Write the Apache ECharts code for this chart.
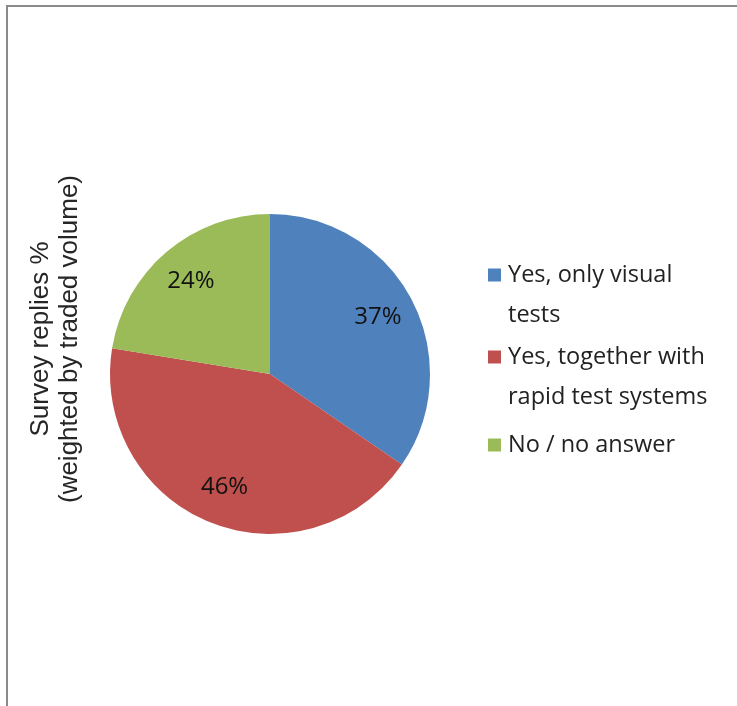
<!DOCTYPE html>
<html>
<head>
<meta charset="utf-8">
<title>Survey replies</title>
<script src="https://cdn.jsdelivr.net/npm/echarts@6/dist/echarts.min.js"></script>
<style>
  html, body { margin: 0; padding: 0; background: #fff; }
  #chart { width: 737px; height: 706px; }
</style>
</head>
<body>
<div id="chart"></div>
<script>
// Survey answers and their shares (percent, weighted by traded volume)
const categories = ['Yes, only visual tests', 'Yes, together with rapid test systems', 'No / no answer'];
const legendLabels = ['Yes, only visual\ntests', 'Yes, together with\nrapid test systems', 'No / no answer'];
const shares = [37, 46, 24];
const colors = ['#4F81BD', '#C0504D', '#9BBB59'];
const axisTitle = ['Survey replies %', '(weighted by traded volume)'];

const pieData = categories.map((name, i) => ({ name, value: shares[i] }));

// one vertical stack of legend entries, each with its own top offset
const legendTops = [250, 332, 420];

function legendFor(i) {
  const rich = {
    g: { width: 13, height: 13, lineHeight: 40 },
    t: { fontFamily: 'Open Sans', fontSize: 23.5, color: '#222', lineHeight: 40, padding: [0, 0, 0, 7] }
  };
  rich['m' + i] = { width: 13, height: 13, lineHeight: 40, backgroundColor: colors[i], verticalAlign: 'middle' };
  return {
    orient: 'vertical',
    left: 478,
    top: legendTops[i],
    itemWidth: 0,
    itemHeight: 0,
    icon: 'rect',
    data: [categories[i]],
    selectedMode: false,
    formatter: (name) => legendLabels[categories.indexOf(name)].split('\n')
      .map((line, k) => (k === 0 ? '{m' + i + '|}' : '{g|}') + '{t|' + line + '}')
      .join('\n'),
    textStyle: { lineHeight: 40, rich }
  };
}

const chart = echarts.init(document.getElementById('chart'), null, { renderer: 'canvas' });
chart.setOption({
  animation: false,
  backgroundColor: '#fff',
  color: colors,
  graphic: [
    {
      type: 'rect',
      shape: { x: 7, y: 6, width: 760, height: 730 },
      style: { fill: 'none', stroke: '#8a8a8a', lineWidth: 2 },
      silent: true
    },
    {
      type: 'text',
      x: 55,
      y: 339,
      rotation: Math.PI / 2,
      style: {
        text: axisTitle.join('\n'),
        fontFamily: 'Liberation Sans',
        fontSize: 26,
        lineHeight: 29,
        fill: '#262626',
        align: 'center',
        verticalAlign: 'middle'
      },
      silent: true
    }
  ],
  legend: categories.map((c, i) => legendFor(i)),
  series: [
    {
      type: 'pie',
      center: [270, 374],
      radius: [0, 160],
      startAngle: 90,
      clockwise: true,
      silent: true,
      label: { show: false },
      labelLine: { show: false },
      itemStyle: { borderWidth: 0 },
      data: pieData
    },
    {
      // transparent ring carrying the percentage labels
      type: 'pie',
      center: [270, 374],
      radius: [78, 160],
      startAngle: 90,
      clockwise: true,
      silent: true,
      itemStyle: { color: 'rgba(0,0,0,0)', borderWidth: 0 },
      label: {
        show: true,
        position: 'inside',
        formatter: '{c}%',
        fontFamily: 'Open Sans',
        fontSize: 24,
        color: '#111'
      },
      labelLine: { show: false },
      data: pieData
    }
  ]
});
</script>
</body>
</html>
